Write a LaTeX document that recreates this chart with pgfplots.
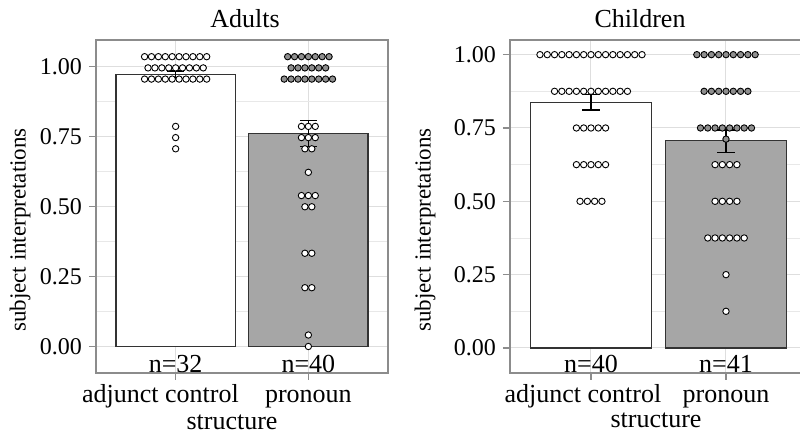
\documentclass[border=0pt]{standalone}
\usepackage{fontspec}
\setmainfont{Liberation Serif}
\usepackage{pgfplots}
\pgfplotsset{compat=1.18}

\definecolor{gridgray}{HTML}{DEDEDE}
\definecolor{framegray}{HTML}{8C8C8C}
\definecolor{barline}{HTML}{333333}
\definecolor{bargray}{HTML}{A6A6A6}
\definecolor{dotgray}{HTML}{8F8F8F}

\tikzset{lab/.style={font=\fontsize{13}{14}\selectfont, anchor=base}}

\pgfplotsset{
  panel/.style={
    scale only axis, width=146pt, height=166.5pt, anchor=south west,
    xmin=-0.6, xmax=1.6,
    xtick={0,1}, xticklabels={},
    ytick={0,0.25,0.5,0.75,1},
    minor ytick={0.125,0.375,0.625,0.875},
    xmajorgrids, ymajorgrids, yminorgrids,
    major grid style={gridgray, line width=0.5pt},
    minor grid style={gridgray!70, line width=0.35pt},
    axis line style={framegray, line width=0.6pt},
    tick style={framegray, line width=0.6pt},
    tick align=outside, major tick length=3.5pt, minor tick length=0pt,
    xtick pos=bottom, ytick pos=left,
    yticklabel style={/pgf/number format/.cd, fixed, fixed zerofill, precision=2, assume math mode=true},
    ticklabel style={font=\fontsize{12}{14}\selectfont, black},
    clip=false,
  },
  bar/.style={ybar, bar width=0.9, bar shift=0pt, draw=barline, line width=0.6pt},
  wdot/.style={only marks, mark=*, mark size=1.6pt, mark options={fill=white, draw=black, line width=0.45pt}},
  gdot/.style={only marks, mark=*, mark size=1.6pt, mark options={fill=dotgray, draw=black, line width=0.45pt}},
  err/.style={black, line width=0.6pt, mark=none},
}

\begin{document}
\begin{tikzpicture}
\useasboundingbox (0,0) rectangle (400pt,219pt);

% ---- Adults ----
\begin{axis}[panel, at={(48pt,32.5pt)}, ymin=-0.0946, ymax=1.0946]
\addplot[bar, fill=white] coordinates {(0,0.971)};
\addplot[bar, fill=bargray] coordinates {(1,0.760)};
% adjunct control
\addplot[wdot] coordinates {
  (-0.234,1.035)(-0.182,1.035)(-0.130,1.035)(-0.078,1.035)(-0.026,1.035)
  (0.026,1.035)(0.078,1.035)(0.130,1.035)(0.182,1.035)(0.234,1.035)
  (-0.208,0.995)(-0.156,0.995)(-0.104,0.995)(-0.052,0.995)(0,0.995)
  (0.052,0.995)(0.104,0.995)(0.156,0.995)(0.208,0.995)
  (-0.234,0.955)(-0.182,0.955)(-0.130,0.955)(-0.078,0.955)(-0.026,0.955)
  (0.026,0.955)(0.078,0.955)(0.130,0.955)(0.182,0.955)(0.234,0.955)
  (0,0.786)(0,0.746)(0,0.706)
};
% pronoun
\addplot[gdot] coordinates {
  (0.844,1.035)(0.896,1.035)(0.948,1.035)(1,1.035)(1.052,1.035)(1.104,1.035)(1.156,1.035)
  (0.870,0.995)(0.922,0.995)(0.974,0.995)(1.026,0.995)(1.078,0.995)(1.130,0.995)
  (0.818,0.955)(0.870,0.955)(0.922,0.955)(0.974,0.955)(1.026,0.955)(1.078,0.955)(1.130,0.955)(1.182,0.955)
};
\addplot[wdot] coordinates {
  (0.948,0.786)(1,0.786)(1.052,0.786)
  (0.948,0.746)(1,0.746)(1.052,0.746)
  (0.974,0.706)(1.026,0.706)
  (1,0.622)
  (0.948,0.539)(1,0.539)(1.052,0.539)
  (0.974,0.499)(1.026,0.499)
  (0.974,0.333)(1.026,0.333)
  (0.974,0.210)(1.026,0.210)
  (1,0.041)(1,0)
};
% error bars
\addplot[err] coordinates {(0,0.958)(0,0.984)};
\addplot[err] coordinates {(-0.064,0.958)(0.064,0.958)};
\addplot[err] coordinates {(-0.064,0.984)(0.064,0.984)};
\addplot[err] coordinates {(1,0.714)(1,0.806)};
\addplot[err] coordinates {(0.936,0.714)(1.064,0.714)};
\addplot[err] coordinates {(0.936,0.806)(1.064,0.806)};
% labels
\node[lab] at (axis cs:0,-0.092) {n=32};
\node[lab] at (axis cs:1,-0.092) {n=40};
\node[lab] at (axis cs:-0.114,-0.0946) [yshift=-14.8pt] {adjunct control};
\node[lab] at (axis cs:1,-0.0946) [yshift=-14.8pt] {pronoun};
\end{axis}

% ---- Children ----
\begin{axis}[panel, at={(255pt,32.5pt)}, width=148.5pt, ymin=-0.0853, ymax=1.05]
\addplot[bar, fill=white] coordinates {(0,0.8375)};
\addplot[bar, fill=bargray] coordinates {(1,0.7065)};
% adjunct control
\addplot[wdot] coordinates {
  (-0.378,1)(-0.324,1)(-0.270,1)(-0.216,1)(-0.162,1)(-0.108,1)(-0.054,1)(0,1)
  (0.054,1)(0.108,1)(0.162,1)(0.216,1)(0.270,1)(0.324,1)(0.378,1)
  (-0.270,0.875)(-0.216,0.875)(-0.162,0.875)(-0.108,0.875)(-0.054,0.875)(0,0.875)
  (0.054,0.875)(0.108,0.875)(0.162,0.875)(0.216,0.875)(0.270,0.875)
  (-0.108,0.75)(-0.054,0.75)(0,0.75)(0.054,0.75)(0.108,0.75)
  (-0.108,0.625)(-0.054,0.625)(0,0.625)(0.054,0.625)(0.108,0.625)
  (-0.081,0.5)(-0.027,0.5)(0.027,0.5)(0.081,0.5)
};
% pronoun
\addplot[gdot] coordinates {
  (0.784,1)(0.838,1)(0.892,1)(0.946,1)(1,1)(1.054,1)(1.108,1)(1.162,1)(1.216,1)
  (0.838,0.875)(0.892,0.875)(0.946,0.875)(1,0.875)(1.054,0.875)(1.108,0.875)(1.162,0.875)
  (0.811,0.75)(0.865,0.75)(0.919,0.75)(0.973,0.75)(1.027,0.75)(1.081,0.75)(1.135,0.75)(1.189,0.75)
  (1,0.712)
};
\addplot[wdot] coordinates {
  (0.919,0.625)(0.973,0.625)(1.027,0.625)(1.081,0.625)
  (0.919,0.5)(0.973,0.5)(1.027,0.5)(1.081,0.5)
  (0.865,0.375)(0.919,0.375)(0.973,0.375)(1.027,0.375)(1.081,0.375)(1.135,0.375)
  (1,0.25)(1,0.125)
};
% error bars
\addplot[err] coordinates {(0,0.811)(0,0.865)};
\addplot[err] coordinates {(-0.063,0.811)(0.063,0.811)};
\addplot[err] coordinates {(-0.063,0.865)(0.063,0.865)};
\addplot[err] coordinates {(1,0.667)(1,0.743)};
\addplot[err] coordinates {(0.937,0.667)(1.063,0.667)};
\addplot[err] coordinates {(0.937,0.743)(1.063,0.743)};
% labels
\node[lab] at (axis cs:0,-0.082) {n=40};
\node[lab] at (axis cs:1,-0.082) {n=41};
\node[lab] at (axis cs:-0.06,-0.0853) [yshift=-14.8pt] {adjunct control};
\node[lab] at (axis cs:1,-0.0853) [yshift=-14.8pt] {pronoun};
\end{axis}

% titles and axis titles
\node[font=\fontsize{13}{15}\selectfont] at (122.5pt,209.8pt) {Adults};
\node[font=\fontsize{13}{15}\selectfont] at (320pt,209.8pt) {Children};
\node[font=\fontsize{11.5}{13}\selectfont, rotate=90] at (10pt,104pt) {subject interpretations};
\node[font=\fontsize{11.5}{13}\selectfont, rotate=90] at (212.5pt,104pt) {subject interpretations};
\node[lab] at (116pt,4pt) {structure};
\node[lab] at (328pt,5.2pt) {structure};
\end{tikzpicture}
\end{document}
